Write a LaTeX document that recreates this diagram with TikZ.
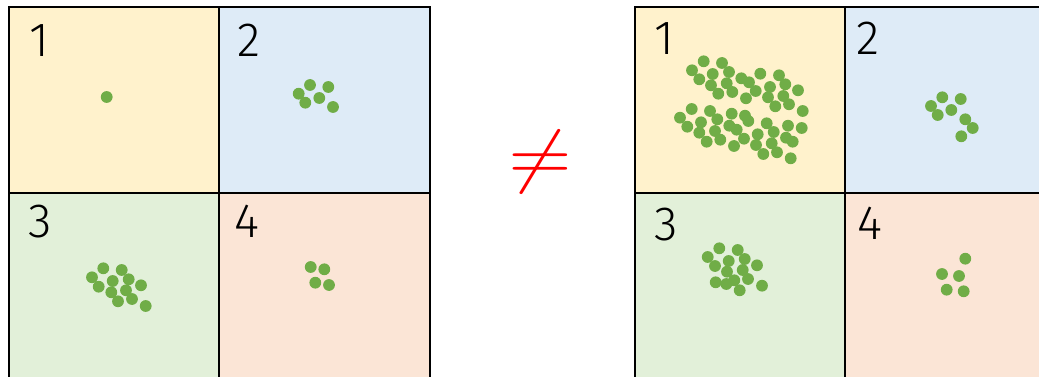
\documentclass[tikz,border=0pt]{standalone}
\usepackage{fontspec}
\newfontfamily\digitfont{Fira Sans Light}
\definecolor{cyellow}{HTML}{FFF2CC}
\definecolor{cblue}{HTML}{DEEBF7}
\definecolor{cgreen}{HTML}{E2F0D9}
\definecolor{corange}{HTML}{FBE5D6}
\definecolor{dotgreen}{HTML}{70AD47}
\tikzset{
  cell/.style={draw=black, line width=2pt},
  lbl/.style={anchor=base west, inner sep=0pt, font=\digitfont\fontsize{48}{48}\selectfont},
  dot/.style={fill=dotgreen}
}
\newcommand\dotgroup[1]{\foreach \px/\py in {#1} {\fill[dot] (\px,\py) circle (5.9);}}
\begin{document}
\begin{tikzpicture}[x=1pt,y=-1pt]
\useasboundingbox (0,0) rectangle (1039,377);
\fill[white] (0,0) rectangle (1039,377);
\begin{scope}
\clip (0,0) rectangle (1039,377);
% left grid
\path[cell, fill=cyellow] (9,7.5) rectangle (219,193);
\path[cell, fill=cblue] (219,7.5) rectangle (430,193);
\path[cell, fill=cgreen] (9,193) rectangle (219,378.5);
\path[cell, fill=corange] (219,193) rectangle (430,378.5);
% right grid
\path[cell, fill=cyellow] (634.5,7.5) rectangle (845,193);
\path[cell, fill=cblue] (845,7.5) rectangle (1056,193);
\path[cell, fill=cgreen] (634.5,193) rectangle (845,378.5);
\path[cell, fill=corange] (845,193) rectangle (1056,378.5);
\end{scope}
% labels
\node[lbl] (L1) at (29,56.5) {1};
\node[lbl] (L2) at (237,56.5) {2};
\node[lbl] (L3) at (28,237) {3};
\node[lbl] (L4) at (234,237) {4};
\node[lbl] (R1) at (654,55) {1};
\node[lbl] (R2) at (856,54.5) {2};
\node[lbl] (R3) at (654,240) {3};
\node[lbl] (R4) at (857,239) {4};
% not equal
\node[text=red, inner sep=0pt, font=\fontsize{10}{10}\selectfont] (neq) at (540.5,162) {\scalebox{8.2}[7]{$\neq$}};
% left dots
\dotgroup{106.7/97}
\dotgroup{298.7/93.7, 310/85, 328.3/87, 305.3/102.7, 319.3/98, 333/107}
\dotgroup{103.3/268.3, 121.7/270, 92/277.3, 112.7/281, 128.7/279.3, 98.7/286.7, 141/285.3, 111.3/292.3, 126/290.3, 118/301.3, 132/299, 145.7/306}
\dotgroup{310.7/267, 324.3/269.3, 315.3/282.7, 329/285}
% right dots
\dotgroup{703.7/61.3, 722/63, 692/70.3, 712.7/74, 729/72, 699.3/79.3, 711/85.3, 726.7/83.3, 741.3/78.3, 749/82.3, 760.3/73.7, 779/75.3, 718.3/93.7, 732.3/92, 755.7/91, 770/87, 785.3/84.3, 798/90.3, 746/98.3, 768/97.3, 783.3/96, 775.3/106.3, 789/104.3, 802.7/111}
\dotgroup{691.7/109, 680/117.7, 710/111, 687.3/126.7, 701/122.3, 717.3/119.3, 731.7/113.7, 745/115.7, 748.3/121, 699.3/132.7, 715/131, 729.3/125.7, 736.7/129.7, 766.7/123.3, 706.7/141.7, 720.3/139.7, 744/138.7, 757.7/134.3, 773.7/132, 788/125.7, 801.7/128, 734/146, 756/145, 771.7/143.3, 786/137.7, 792.7/141.7, 763.3/154, 777/152.3, 790.7/158.3}
\dotgroup{942.3/97.3, 960.7/99, 931/106, 951.3/110, 937.7/115, 965.3/119.3, 972.7/128, 961.3/136.3}
\dotgroup{719.3/248.3, 737.7/250, 707.7/257, 728.7/261, 744.7/259, 715/266, 757/265.3, 727/271.7, 742.7/270, 715.7/282.3, 726.3/284, 734.3/280.3, 748/279, 739.7/290.3, 762/285.7}
\dotgroup{965.3/258.7, 942/274, 959/276, 946.7/289.7, 963.7/291.3}
\end{tikzpicture}
\end{document}
